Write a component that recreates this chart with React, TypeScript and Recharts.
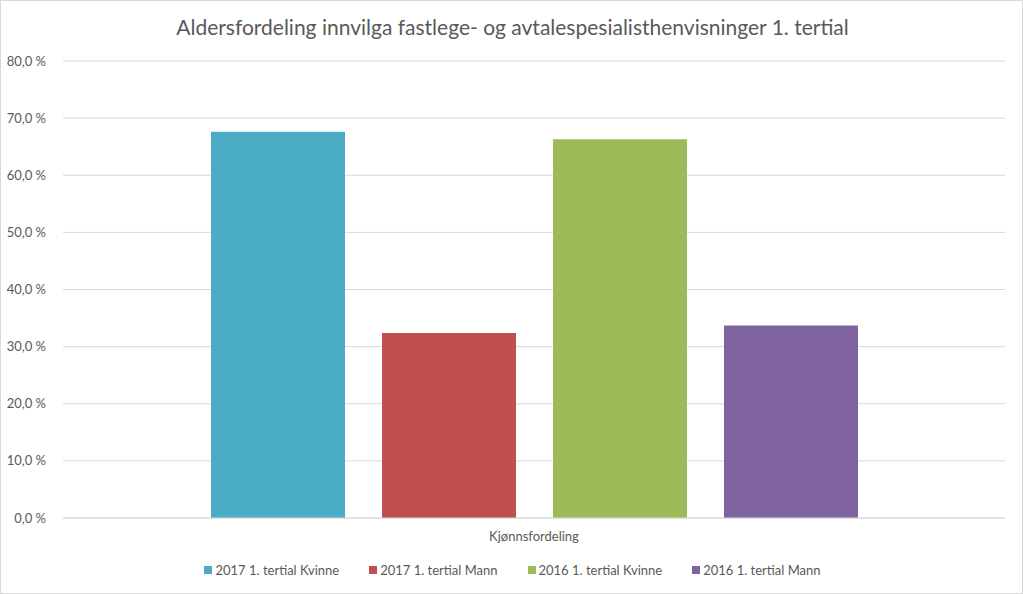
import React from 'react';
import { BarChart, Bar, XAxis, YAxis, CartesianGrid } from 'recharts';

const categories = ['Kjønnsfordeling'];
const seriesNames = ['2017 1. tertial Kvinne', '2017 1. tertial Mann', '2016 1. tertial Kvinne', '2016 1. tertial Mann'];
const seriesKeys = ['k2017', 'm2017', 'k2016', 'm2016'];
const seriesValues = [[67.6], [32.4], [66.3], [33.7]];
const seriesColors = ['#4BACC6', '#C0504D', '#9BBB59', '#8064A2'];
const yTicks = [0, 10, 20, 30, 40, 50, 60, 70, 80];
const title = 'Aldersfordeling innvilga fastlege- og avtalespesialisthenvisninger 1. tertial';

const data = categories.map((c, i) => {
  const row: Record<string, any> = { cat: c };
  seriesKeys.forEach((k, s) => { row[k] = seriesValues[s][i]; });
  return row;
});

const FONT = 'Lato, "Open Sans", sans-serif';
const TXT = '#595959';

const fmt = (v: number) => v.toFixed(1).replace('.', ',') + ' %';

export default function App() {
  return (
    <div style={{ position: 'absolute', left: 0, top: 0, width: 1023, height: 594, background: '#fff', fontFamily: FONT, boxSizing: 'border-box', border: '1px solid #d9d9d9' }}>
      <div style={{ position: 'absolute', left: 0, top: 13, width: 1023, textAlign: 'center', fontSize: 21, color: TXT }}>{title}</div>
      <div style={{ position: 'absolute', left: -1, top: -1 }}>
        <BarChart width={1023} height={594} data={data} margin={{ top: 61, right: 18, bottom: 46, left: 0 }} barSize={134} barGap={37}>
          <CartesianGrid vertical={false} stroke="#d9d9d9" />
          <XAxis dataKey="cat" axisLine={{ stroke: '#d9d9d9' }} tickLine={false} height={30} tickMargin={8}
            tick={{ fill: TXT, fontSize: 13, fontFamily: FONT }} />
          <YAxis domain={[0, 80]} ticks={yTicks} width={63} axisLine={false} tickLine={false} tickMargin={11}
            tickFormatter={fmt} tick={{ fill: TXT, fontSize: 13, fontFamily: FONT }} />
          {seriesKeys.map((k, i) => (
            <Bar key={k} dataKey={k} name={seriesNames[i]} fill={seriesColors[i]} isAnimationActive={false} />
          ))}
        </BarChart>
      </div>
      <div style={{ position: 'absolute', left: 0, top: 561, width: 1023, display: 'flex', justifyContent: 'center', fontSize: 13, color: TXT }}>
        {seriesNames.map((n, i) => (
          <div key={n} style={{ display: 'flex', alignItems: 'center', marginLeft: i === 0 ? 0 : 30 }}>
            <span style={{ display: 'inline-block', width: 8, height: 8, background: seriesColors[i], marginRight: 3 }} />
            <span>{n}</span>
          </div>
        ))}
      </div>
    </div>
  );
}
